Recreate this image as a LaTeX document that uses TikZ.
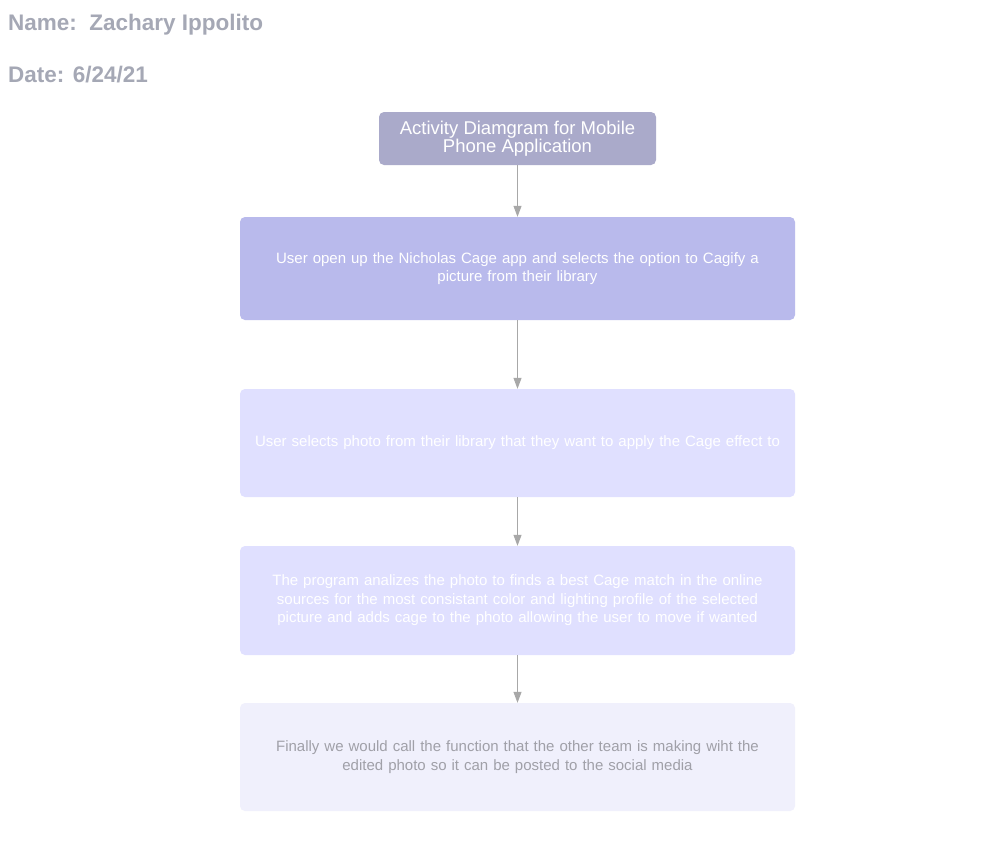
\documentclass[tikz,border=0pt]{standalone}
\usepackage{fontspec}
\setmainfont{Liberation Sans}
\usetikzlibrary{arrows.meta}
\definecolor{headc}{RGB}{165,168,181}
\definecolor{titlec}{RGB}{170,170,202}
\definecolor{boxa}{RGB}{185,186,236}
\definecolor{boxb}{RGB}{224,224,255}
\definecolor{boxc}{RGB}{240,240,252}
\definecolor{linec}{RGB}{168,168,168}
\definecolor{darktxt}{RGB}{160,160,168}
\tikzset{
  x=1pt, y=-1pt,
  head/.style={anchor=base west, font=\fontsize{22.5}{26}\selectfont\bfseries, text=headc, inner sep=0},
  stepbox/.style={rounded corners=5pt, draw=none, minimum width=555pt, align=center, inner sep=0, text width=545pt, text=white, font=\fontsize{15}{18.5}\selectfont},
  conn/.style={draw=linec, line width=1pt, -{Triangle[width=8pt,length=11pt]}}
}
\begin{document}
\begin{tikzpicture}
\useasboundingbox[fill=white] (0,0) rectangle (984,863);
\node[head] (name) at (8,30) {Name:\ \ Zachary Ippolito};
\node[head] (date) at (8,82) {Date: 6/24/21};
\node[rounded corners=5pt, fill=titlec, minimum width=277pt, minimum height=53pt, inner sep=0, align=center, text=white, font=\fontsize{18.5}{15.5}\selectfont] (t) at (517.5,138.5) {Activity Diamgram for Mobile\\Phone Application};
\node[stepbox, fill=boxa, minimum height=103pt] (b1) at (517.5,268.5) {User open up the Nicholas Cage app and selects the option to Cagify a\\picture from their library};
\node[stepbox, fill=boxb, minimum height=108pt] (b2) at (517.5,443) {User selects photo from their library that they want to apply the Cage effect to};
\node[stepbox, fill=boxb, minimum height=109pt] (b3) at (517.5,600.5) {The program analizes the photo to finds a best Cage match in the online\\sources for the most consistant color and lighting profile of the selected\\picture and adds cage to the photo allowing the user to move if wanted};
\node[stepbox, fill=boxc, minimum height=108pt, text=darktxt] (b4) at (517.5,757) {Finally we would call the function that the other team is making wiht the\\edited photo so it can be posted to the social media};
\draw[conn] (t) -- (b1);
\draw[conn] (b1) -- (b2);
\draw[conn] (b2) -- (b3);
\draw[conn] (b3) -- (b4);
\end{tikzpicture}
\end{document}
